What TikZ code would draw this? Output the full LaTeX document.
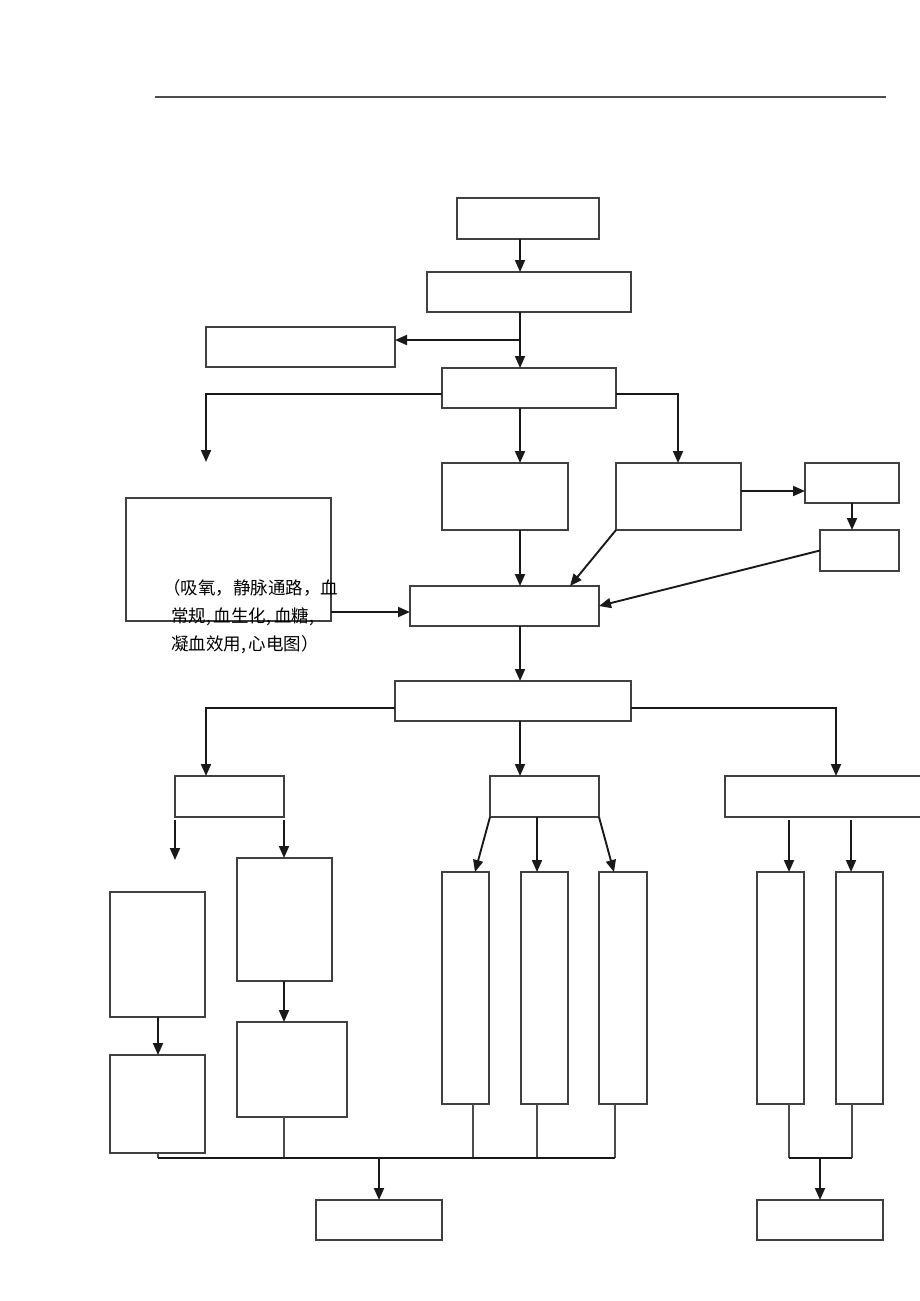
\documentclass[tikz,border=0pt]{standalone}
\usepackage{fontspec}
\newfontfamily\cjk{Noto Sans CJK SC}
\usetikzlibrary{arrows.meta,fit,calc}
\begin{document}
\begin{tikzpicture}[x=1pt,y=-1pt,
  box/.style={draw=black!75,line width=1.3pt,inner sep=0pt,outer sep=0pt},
  arr/.style={draw=black!90,line width=1.9pt,-{Triangle[length=12pt,width=10pt]}},
  ln/.style={draw=black!70,line width=1.2pt},
  bus/.style={draw=black!90,line width=1.9pt}]
\useasboundingbox (0,0) rectangle (920,1301);
\draw[ln] (155,97) coordinate (hl) -- (886,97) coordinate (hr);
% boxes
\node[box,fit={(457,198)(599,239)}] (b1) {};
\node[box,fit={(427,272)(631,312)}] (b2) {};
\node[box,fit={(206,327)(395,367)}] (b3) {};
\node[box,fit={(442,368)(616,408)}] (b4) {};
\node[box,fit={(442,463)(568,530)}] (b5) {};
\node[box,fit={(616,463)(741,530)}] (b6) {};
\node[box,fit={(805,463)(899,503)}] (b7) {};
\node[box,fit={(820,530)(899,571)}] (b8) {};
\node[box,fit={(126,498)(331,621)}] (big) {};
\node[box,fit={(410,586)(599,626)}] (b9) {};
\node[box,fit={(395,681)(631,721)}] (b10) {};
\node[box,fit={(175,776)(284,817)}] (b11) {};
\node[box,fit={(490,776)(599,817)}] (b12) {};
\node[box,fit={(725,776)(930,817)}] (b13) {};
\node[box,fit={(110,892)(205,1017)}] (l1) {};
\node[box,fit={(110,1055)(205,1153)}] (l2) {};
\node[box,fit={(237,858)(332,981)}] (l3) {};
\node[box,fit={(237,1022)(347,1117)}] (l4) {};
\node[box,fit={(442,872)(489,1104)}] (m1) {};
\node[box,fit={(521,872)(568,1104)}] (m2) {};
\node[box,fit={(599,872)(647,1104)}] (m3) {};
\node[box,fit={(757,872)(804,1104)}] (r1) {};
\node[box,fit={(836,872)(883,1104)}] (r2) {};
\node[box,fit={(316,1200)(442,1240)}] (o1) {};
\node[box,fit={(757,1200)(883,1240)}] (o2) {};
% text
\node[anchor=north west,inner sep=0pt,align=left,font=\cjk\fontsize{17.5}{28}\selectfont] (txt) at (163,579)
 {（吸氧，静脉通路，血\\\hspace{8pt}常规,\,血生化,\,血糖,\\\hspace{8pt}凝血效用,\,心电图）};
% column coordinates
\coordinate (cx) at (520,0);
\coordinate (cl) at (206,0);
\coordinate (cr) at (678,0);
\coordinate (cb) at (852,0);
\coordinate (cra) at (836,0);
\coordinate (y3) at (0,340);
\coordinate (y4) at (0,394);
\coordinate (y10) at (0,708);
\coordinate (c1) at (206,462);
\coordinate (f1a) at (175,820);
\coordinate (f1b) at (175,860);
\coordinate (f2a) at (284,820);
\coordinate (f3a) at (789,820);
\coordinate (f4a) at (851,820);
\coordinate (lc) at (158,0);
\coordinate (lc2) at (284,0);
\coordinate (mc) at (537,0);
\coordinate (busA) at (158,1158);
\coordinate (busB) at (615,1158);
\coordinate (busC) at (379,1158);
\coordinate (busD) at (789,1158);
\coordinate (busE) at (852,1158);
\coordinate (busF) at (820,1158);
\coordinate (b9a) at (570,586);
\coordinate (b9w) at (410,612);
\coordinate (b6e) at (741,491);
% arrows
\draw[arr] (b1.south -| cx) -- (b2.north -| cx);
\draw[arr] (b2.south -| cx) -- (b4.north -| cx);
\draw[arr] (cx |- y3) -- (b3.east |- y3);
\draw[arr] (b4.west |- y4) -| (c1);
\draw[arr] (b4.south -| cx) -- (b5.north -| cx);
\draw[arr] (b4.east |- y4) -| (b6.north -| cr);
\draw[arr] (b5.south -| cx) -- (b9.north -| cx);
\draw[arr] (b6.south west) -- (b9a);
\draw[arr] (b6e) -- (b7.west |- b6e);
\draw[arr] (b7.south -| cb) -- (b8.north -| cb);
\draw[arr] (b8.west) -- (b9.east);
\draw[arr] (big.east |- b9w) -- (b9w);
\draw[arr] (b9.south -| cx) -- (b10.north -| cx);
\draw[arr] (b10.west |- y10) -| (b11.north -| cl);
\draw[arr] (b10.south -| cx) -- (b12.north -| cx);
\draw[arr] (b10.east |- y10) -| (b13.north -| cra);
\draw[arr] (f1a) -- (f1b);
\draw[arr] (f2a) -- (l3.north -| f2a);
\draw[arr] (l1.south -| lc) -- (l2.north -| lc);
\draw[arr] (l3.south -| lc2) -- (l4.north -| lc2);
\draw[arr] (b12.south west) -- (475,872);
\draw[arr] (b12.south -| mc) -- (m2.north -| mc);
\draw[arr] (b12.south east) -- (614,872);
\draw[arr] (f3a) -- (r1.north -| f3a);
\draw[arr] (f4a) -- (r2.north -| f4a);
% collecting lines
\draw[ln] (l2.south -| lc) -- (busA);
\draw[ln] (l4.south -| lc2) -- (busA -| lc2);
\draw[ln] (473,1104) -- (473,1158);
\draw[ln] (m2.south -| mc) -- (busA -| mc);
\draw[ln] (615,1104) -- (busB);
\draw[bus] (busA) -- (busB);
\draw[arr] (busC) -- (o1.north -| busC);
\draw[ln] (r1.south -| busD) -- (busD);
\draw[ln] (r2.south -| busE) -- (busE);
\draw[bus] (busD) -- (busE);
\draw[arr] (busF) -- (o2.north -| busF);
\end{tikzpicture}
\end{document}
